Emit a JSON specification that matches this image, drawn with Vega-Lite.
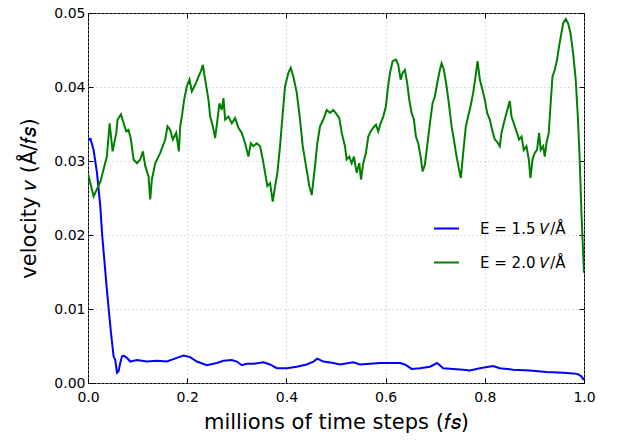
{
  "$schema": "https://vega.github.io/schema/vega-lite/v6.json",
  "width": 496,
  "height": 370,
  "autosize": "none",
  "padding": {"left": 88, "top": 13, "right": 35, "bottom": 58},
  "background": "white",
  "config": {
    "font": "DejaVu Sans",
    "view": {"stroke": "black", "strokeWidth": 1},
    "axis": {
      "domain": false,
      "grid": true,
      "gridColor": "#b8b8b8",
      "gridDash": [1, 3],
      "gridWidth": 1,
      "tickColor": "black",
      "tickSize": -5,
      "tickWidth": 1,
      "labelFontSize": 14,
      "labelColor": "black",
      "labelFlush": false,
      "titleFontSize": 21,
      "titleFontWeight": "normal",
      "titleColor": "black"
    }
  },
  "data": {
    "values": [
      {"s": "b", "t": 0, "v": 0.0329}, {"s": "b", "t": 0.005, "v": 0.033}, {"s": "b", "t": 0.0113, "v": 0.0315},
      {"s": "b", "t": 0.0181, "v": 0.0284}, {"s": "b", "t": 0.0248, "v": 0.0239}, {"s": "b", "t": 0.0282, "v": 0.0203},
      {"s": "b", "t": 0.0369, "v": 0.0135}, {"s": "b", "t": 0.0415, "v": 0.0101}, {"s": "b", "t": 0.0463, "v": 0.0068},
      {"s": "b", "t": 0.0516, "v": 0.0036}, {"s": "b", "t": 0.055, "v": 0.0031}, {"s": "b", "t": 0.0584, "v": 0.0014},
      {"s": "b", "t": 0.0616, "v": 0.0016}, {"s": "b", "t": 0.065, "v": 0.0027}, {"s": "b", "t": 0.0685, "v": 0.0036},
      {"s": "b", "t": 0.0717, "v": 0.0037}, {"s": "b", "t": 0.0785, "v": 0.0034}, {"s": "b", "t": 0.0852, "v": 0.0029},
      {"s": "b", "t": 0.0987, "v": 0.0031}, {"s": "b", "t": 0.1188, "v": 0.0029}, {"s": "b", "t": 0.1389, "v": 0.003},
      {"s": "b", "t": 0.1591, "v": 0.0029}, {"s": "b", "t": 0.1792, "v": 0.0034}, {"s": "b", "t": 0.1925, "v": 0.0037},
      {"s": "b", "t": 0.206, "v": 0.0035}, {"s": "b", "t": 0.2195, "v": 0.0029}, {"s": "b", "t": 0.2396, "v": 0.0024},
      {"s": "b", "t": 0.2597, "v": 0.0027}, {"s": "b", "t": 0.2731, "v": 0.003}, {"s": "b", "t": 0.29, "v": 0.0031},
      {"s": "b", "t": 0.3, "v": 0.0029}, {"s": "b", "t": 0.3101, "v": 0.0024}, {"s": "b", "t": 0.3201, "v": 0.0026},
      {"s": "b", "t": 0.3335, "v": 0.0026}, {"s": "b", "t": 0.3537, "v": 0.0028}, {"s": "b", "t": 0.3671, "v": 0.0025},
      {"s": "b", "t": 0.3805, "v": 0.002}, {"s": "b", "t": 0.4007, "v": 0.002}, {"s": "b", "t": 0.4208, "v": 0.0022},
      {"s": "b", "t": 0.441, "v": 0.0025}, {"s": "b", "t": 0.4544, "v": 0.0029}, {"s": "b", "t": 0.4623, "v": 0.0033},
      {"s": "b", "t": 0.4745, "v": 0.0029}, {"s": "b", "t": 0.4946, "v": 0.0027}, {"s": "b", "t": 0.5081, "v": 0.0025},
      {"s": "b", "t": 0.5349, "v": 0.0028}, {"s": "b", "t": 0.5483, "v": 0.0025}, {"s": "b", "t": 0.5685, "v": 0.0026},
      {"s": "b", "t": 0.5886, "v": 0.0027}, {"s": "b", "t": 0.6088, "v": 0.0027}, {"s": "b", "t": 0.629, "v": 0.0027},
      {"s": "b", "t": 0.639, "v": 0.0025}, {"s": "b", "t": 0.6524, "v": 0.0019}, {"s": "b", "t": 0.6692, "v": 0.002},
      {"s": "b", "t": 0.6893, "v": 0.0022}, {"s": "b", "t": 0.704, "v": 0.0027}, {"s": "b", "t": 0.7161, "v": 0.002},
      {"s": "b", "t": 0.7363, "v": 0.0019}, {"s": "b", "t": 0.7564, "v": 0.0018}, {"s": "b", "t": 0.7698, "v": 0.0017},
      {"s": "b", "t": 0.79, "v": 0.002}, {"s": "b", "t": 0.8168, "v": 0.0023}, {"s": "b", "t": 0.8302, "v": 0.002},
      {"s": "b", "t": 0.8571, "v": 0.0018}, {"s": "b", "t": 0.8907, "v": 0.0017}, {"s": "b", "t": 0.9243, "v": 0.0015},
      {"s": "b", "t": 0.9578, "v": 0.0014}, {"s": "b", "t": 0.9779, "v": 0.0013}, {"s": "b", "t": 0.9879, "v": 0.0012},
      {"s": "b", "t": 0.9946, "v": 0.0009}, {"s": "b", "t": 1.0, "v": 0.0004},
      {"s": "g", "t": 0, "v": 0.0283}, {"s": "g", "t": 0.0113, "v": 0.0252}, {"s": "g", "t": 0.025, "v": 0.0272},
      {"s": "g", "t": 0.038, "v": 0.0306}, {"s": "g", "t": 0.0436, "v": 0.0351}, {"s": "g", "t": 0.0496, "v": 0.0313},
      {"s": "g", "t": 0.057, "v": 0.0338}, {"s": "g", "t": 0.0597, "v": 0.0356}, {"s": "g", "t": 0.0664, "v": 0.0363},
      {"s": "g", "t": 0.0718, "v": 0.0351}, {"s": "g", "t": 0.0771, "v": 0.034}, {"s": "g", "t": 0.0818, "v": 0.0342},
      {"s": "g", "t": 0.0866, "v": 0.0329}, {"s": "g", "t": 0.0919, "v": 0.0302}, {"s": "g", "t": 0.0986, "v": 0.0297},
      {"s": "g", "t": 0.1053, "v": 0.0302}, {"s": "g", "t": 0.1107, "v": 0.0313}, {"s": "g", "t": 0.1154, "v": 0.0293},
      {"s": "g", "t": 0.1221, "v": 0.0279}, {"s": "g", "t": 0.1254, "v": 0.0248}, {"s": "g", "t": 0.1288, "v": 0.0275},
      {"s": "g", "t": 0.1355, "v": 0.0297}, {"s": "g", "t": 0.1456, "v": 0.0311}, {"s": "g", "t": 0.1557, "v": 0.0329},
      {"s": "g", "t": 0.1603, "v": 0.0347}, {"s": "g", "t": 0.1657, "v": 0.0342}, {"s": "g", "t": 0.1711, "v": 0.0329},
      {"s": "g", "t": 0.1778, "v": 0.0338}, {"s": "g", "t": 0.1832, "v": 0.0313}, {"s": "g", "t": 0.1859, "v": 0.0347},
      {"s": "g", "t": 0.1892, "v": 0.036}, {"s": "g", "t": 0.1939, "v": 0.0383}, {"s": "g", "t": 0.1993, "v": 0.0401},
      {"s": "g", "t": 0.2046, "v": 0.041}, {"s": "g", "t": 0.2094, "v": 0.0394}, {"s": "g", "t": 0.2161, "v": 0.0403},
      {"s": "g", "t": 0.2227, "v": 0.0414}, {"s": "g", "t": 0.2275, "v": 0.0421}, {"s": "g", "t": 0.2316, "v": 0.043},
      {"s": "g", "t": 0.2362, "v": 0.041}, {"s": "g", "t": 0.2429, "v": 0.0383}, {"s": "g", "t": 0.2463, "v": 0.036},
      {"s": "g", "t": 0.2517, "v": 0.0347}, {"s": "g", "t": 0.2563, "v": 0.0331}, {"s": "g", "t": 0.261, "v": 0.0356},
      {"s": "g", "t": 0.265, "v": 0.0378}, {"s": "g", "t": 0.2698, "v": 0.0369}, {"s": "g", "t": 0.2731, "v": 0.0385},
      {"s": "g", "t": 0.2765, "v": 0.0356}, {"s": "g", "t": 0.2831, "v": 0.036}, {"s": "g", "t": 0.29, "v": 0.0351},
      {"s": "g", "t": 0.2966, "v": 0.0358}, {"s": "g", "t": 0.3033, "v": 0.0345}, {"s": "g", "t": 0.3101, "v": 0.0338},
      {"s": "g", "t": 0.3168, "v": 0.0324}, {"s": "g", "t": 0.3234, "v": 0.0306}, {"s": "g", "t": 0.3282, "v": 0.0324},
      {"s": "g", "t": 0.3335, "v": 0.032}, {"s": "g", "t": 0.3403, "v": 0.0324}, {"s": "g", "t": 0.347, "v": 0.032},
      {"s": "g", "t": 0.3524, "v": 0.0302}, {"s": "g", "t": 0.357, "v": 0.0284}, {"s": "g", "t": 0.3617, "v": 0.0266},
      {"s": "g", "t": 0.3671, "v": 0.027}, {"s": "g", "t": 0.3725, "v": 0.0245}, {"s": "g", "t": 0.3772, "v": 0.0266},
      {"s": "g", "t": 0.3818, "v": 0.0284}, {"s": "g", "t": 0.3872, "v": 0.032}, {"s": "g", "t": 0.3927, "v": 0.0365},
      {"s": "g", "t": 0.3973, "v": 0.0401}, {"s": "g", "t": 0.404, "v": 0.0419}, {"s": "g", "t": 0.4088, "v": 0.0426},
      {"s": "g", "t": 0.4141, "v": 0.0414}, {"s": "g", "t": 0.4209, "v": 0.0392}, {"s": "g", "t": 0.4275, "v": 0.0356},
      {"s": "g", "t": 0.4329, "v": 0.032}, {"s": "g", "t": 0.4396, "v": 0.0293}, {"s": "g", "t": 0.4462, "v": 0.0266},
      {"s": "g", "t": 0.4511, "v": 0.0254}, {"s": "g", "t": 0.4577, "v": 0.0293}, {"s": "g", "t": 0.4623, "v": 0.0324},
      {"s": "g", "t": 0.4678, "v": 0.0347}, {"s": "g", "t": 0.4744, "v": 0.0356}, {"s": "g", "t": 0.4813, "v": 0.0369},
      {"s": "g", "t": 0.4879, "v": 0.0365}, {"s": "g", "t": 0.4946, "v": 0.0369}, {"s": "g", "t": 0.5014, "v": 0.0363},
      {"s": "g", "t": 0.5067, "v": 0.0358}, {"s": "g", "t": 0.5115, "v": 0.0338}, {"s": "g", "t": 0.5181, "v": 0.032},
      {"s": "g", "t": 0.5215, "v": 0.0302}, {"s": "g", "t": 0.5268, "v": 0.0306}, {"s": "g", "t": 0.5316, "v": 0.0297},
      {"s": "g", "t": 0.5362, "v": 0.0306}, {"s": "g", "t": 0.5417, "v": 0.0284}, {"s": "g", "t": 0.5469, "v": 0.0297},
      {"s": "g", "t": 0.5504, "v": 0.0275}, {"s": "g", "t": 0.555, "v": 0.0297}, {"s": "g", "t": 0.5604, "v": 0.0311},
      {"s": "g", "t": 0.5651, "v": 0.0333}, {"s": "g", "t": 0.5699, "v": 0.034}, {"s": "g", "t": 0.5751, "v": 0.0345},
      {"s": "g", "t": 0.5806, "v": 0.0349}, {"s": "g", "t": 0.5852, "v": 0.034}, {"s": "g", "t": 0.59, "v": 0.0351},
      {"s": "g", "t": 0.5953, "v": 0.036}, {"s": "g", "t": 0.6007, "v": 0.0374}, {"s": "g", "t": 0.6041, "v": 0.0396},
      {"s": "g", "t": 0.6088, "v": 0.0419}, {"s": "g", "t": 0.6142, "v": 0.0435}, {"s": "g", "t": 0.6208, "v": 0.0437},
      {"s": "g", "t": 0.6255, "v": 0.043}, {"s": "g", "t": 0.6303, "v": 0.041}, {"s": "g", "t": 0.6343, "v": 0.0419},
      {"s": "g", "t": 0.6389, "v": 0.0423}, {"s": "g", "t": 0.6436, "v": 0.0405}, {"s": "g", "t": 0.6476, "v": 0.0383},
      {"s": "g", "t": 0.6524, "v": 0.0365}, {"s": "g", "t": 0.6571, "v": 0.0356}, {"s": "g", "t": 0.6611, "v": 0.0333},
      {"s": "g", "t": 0.6657, "v": 0.0324}, {"s": "g", "t": 0.6706, "v": 0.0306}, {"s": "g", "t": 0.6746, "v": 0.0286},
      {"s": "g", "t": 0.6792, "v": 0.0295}, {"s": "g", "t": 0.6838, "v": 0.032}, {"s": "g", "t": 0.6893, "v": 0.0351},
      {"s": "g", "t": 0.6947, "v": 0.0378}, {"s": "g", "t": 0.6993, "v": 0.0387}, {"s": "g", "t": 0.704, "v": 0.0405},
      {"s": "g", "t": 0.7094, "v": 0.0423}, {"s": "g", "t": 0.7129, "v": 0.0432}, {"s": "g", "t": 0.7175, "v": 0.0423},
      {"s": "g", "t": 0.7229, "v": 0.0401}, {"s": "g", "t": 0.7282, "v": 0.0374}, {"s": "g", "t": 0.733, "v": 0.0347},
      {"s": "g", "t": 0.7376, "v": 0.0329}, {"s": "g", "t": 0.7431, "v": 0.0306}, {"s": "g", "t": 0.7483, "v": 0.0288},
      {"s": "g", "t": 0.7518, "v": 0.0277}, {"s": "g", "t": 0.7564, "v": 0.0311}, {"s": "g", "t": 0.7618, "v": 0.0347},
      {"s": "g", "t": 0.7664, "v": 0.036}, {"s": "g", "t": 0.7713, "v": 0.0374}, {"s": "g", "t": 0.7765, "v": 0.0392},
      {"s": "g", "t": 0.7813, "v": 0.0414}, {"s": "g", "t": 0.7854, "v": 0.0435}, {"s": "g", "t": 0.79, "v": 0.041},
      {"s": "g", "t": 0.7954, "v": 0.0396}, {"s": "g", "t": 0.8, "v": 0.0383}, {"s": "g", "t": 0.8047, "v": 0.0365},
      {"s": "g", "t": 0.8101, "v": 0.0356}, {"s": "g", "t": 0.8155, "v": 0.034}, {"s": "g", "t": 0.8202, "v": 0.0329},
      {"s": "g", "t": 0.8248, "v": 0.0326}, {"s": "g", "t": 0.8302, "v": 0.032}, {"s": "g", "t": 0.8337, "v": 0.0338},
      {"s": "g", "t": 0.8383, "v": 0.0351}, {"s": "g", "t": 0.8437, "v": 0.0365}, {"s": "g", "t": 0.8504, "v": 0.0381},
      {"s": "g", "t": 0.8538, "v": 0.036}, {"s": "g", "t": 0.8584, "v": 0.0351}, {"s": "g", "t": 0.8639, "v": 0.034},
      {"s": "g", "t": 0.8691, "v": 0.0329}, {"s": "g", "t": 0.874, "v": 0.0333}, {"s": "g", "t": 0.8786, "v": 0.0315},
      {"s": "g", "t": 0.884, "v": 0.032}, {"s": "g", "t": 0.8887, "v": 0.0302}, {"s": "g", "t": 0.8921, "v": 0.0277},
      {"s": "g", "t": 0.8961, "v": 0.0302}, {"s": "g", "t": 0.9007, "v": 0.0311}, {"s": "g", "t": 0.9054, "v": 0.0315},
      {"s": "g", "t": 0.9094, "v": 0.0338}, {"s": "g", "t": 0.9128, "v": 0.0315}, {"s": "g", "t": 0.9175, "v": 0.032},
      {"s": "g", "t": 0.9209, "v": 0.0306}, {"s": "g", "t": 0.9243, "v": 0.0324}, {"s": "g", "t": 0.9289, "v": 0.0338},
      {"s": "g", "t": 0.9324, "v": 0.0374}, {"s": "g", "t": 0.9364, "v": 0.0414}, {"s": "g", "t": 0.941, "v": 0.0423},
      {"s": "g", "t": 0.9457, "v": 0.0437}, {"s": "g", "t": 0.9497, "v": 0.0455}, {"s": "g", "t": 0.9545, "v": 0.0473},
      {"s": "g", "t": 0.9578, "v": 0.0486}, {"s": "g", "t": 0.9633, "v": 0.0492}, {"s": "g", "t": 0.9679, "v": 0.0486},
      {"s": "g", "t": 0.9727, "v": 0.0473}, {"s": "g", "t": 0.978, "v": 0.0446}, {"s": "g", "t": 0.9833, "v": 0.041},
      {"s": "g", "t": 0.9879, "v": 0.0356}, {"s": "g", "t": 0.9913, "v": 0.0302}, {"s": "g", "t": 0.9948, "v": 0.023},
      {"s": "g", "t": 1.0, "v": 0.0149}
    ]
  },
  "layer": [
    {
      "mark": {"type": "line", "strokeWidth": 2, "clip": true},
      "encoding": {
        "x": {
          "field": "t", "type": "quantitative",
          "scale": {"domain": [0, 1], "nice": false, "zero": false},
          "axis": {"orient": "bottom", "values": [0, 0.2, 0.4, 0.6, 0.8, 1.0], "format": ".1f", "labelPadding": 12, "title": "millions of time steps (𝑓𝑠)", "titlePadding": 7}
        },
        "y": {
          "field": "v", "type": "quantitative",
          "scale": {"domain": [0, 0.05], "nice": false, "zero": false},
          "axis": {"orient": "left", "values": [0, 0.01, 0.02, 0.03, 0.04, 0.05], "format": ".2f", "labelPadding": 8, "title": "velocity 𝑣 (Å/𝑓𝑠)", "titlePadding": 14}
        },
        "color": {
          "field": "s", "type": "nominal",
          "scale": {"domain": ["b", "g"], "range": ["#0000ff", "#008000"]},
          "legend": {
            "orient": "none", "legendX": 345, "legendY": 202, "title": null,
            "symbolType": "stroke", "symbolSize": 625, "symbolStrokeWidth": 2,
            "labelFontSize": 15, "labelOffset": 20, "rowPadding": 12, "padding": 0,
            "labelColor": "black",
            "labelExpr": "datum.value == 'b' ? 'E = 1.5 𝑉/Å' : 'E = 2.0 𝑉/Å'"
          }
        }
      }
    },
    {
      "mark": {"type": "line", "opacity": 0},
      "encoding": {
        "x": {"field": "t", "type": "quantitative", "axis": {"orient": "top", "values": [0, 0.2, 0.4, 0.6, 0.8, 1.0], "labels": false, "title": null, "grid": false}},
        "y": {"field": "v", "type": "quantitative", "axis": {"orient": "right", "values": [0, 0.01, 0.02, 0.03, 0.04, 0.05], "labels": false, "title": null, "grid": false}},
        "detail": {"field": "s", "type": "nominal"}
      }
    }
  ],
  "resolve": {"axis": {"x": "independent", "y": "independent"}}
}
